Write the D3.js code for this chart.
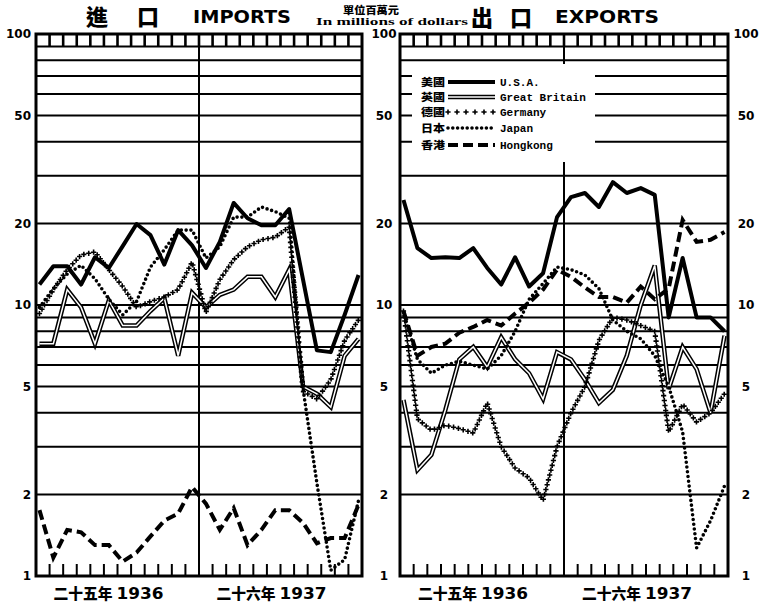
<!DOCTYPE html>
<html><head><meta charset="utf-8">
<script src="https://cdn.jsdelivr.net/npm/d3@7/dist/d3.min.js"></script>
<style>body{margin:0;background:#fff}svg{display:block}</style>
</head><body>
<svg id="c" width="759" height="606"></svg>
<script>
// ---- data ----
const months = ["1936-01","1936-02","1936-03","1936-04","1936-05","1936-06","1936-07","1936-08","1936-09","1936-10","1936-11","1936-12",
                "1937-01","1937-02","1937-03","1937-04","1937-05","1937-06","1937-07","1937-08","1937-09","1937-10","1937-11","1937-12"];
const yearLabelsZh = ["二十五年","二十六年"];
const yearLabelsEn = ["1936","1937"];
const yTickValues = [1,2,5,10,20,50,100];
const gridValues = [2,3,4,5,6,7,8,9,10,20,30,40,50,60,70,80,90];
const seriesNames = ["U.S.A.","Great Britain","Germany","Japan","Hongkong"];
const seriesNamesZh = ["美國","英國","德國","日本","香港"];

const importsUSA      = [11.9,13.9,13.9,11.9,15.0,13.7,16.5,19.9,18.1,14.1,18.9,16.6,13.7,17.1,23.8,20.9,19.7,19.7,22.6,12.4,6.8,6.7,9.2,12.9];
const importsGB       = [7.2,7.2,11.4,9.8,7.2,10.4,8.4,8.4,9.5,10.6,6.5,11.1,9.8,10.9,11.4,12.7,12.7,10.7,13.5,5.0,4.7,4.2,6.5,7.5];
const importsGermany  = [9.3,11.4,13.5,15.3,15.7,13.5,11.7,9.8,10.3,10.7,11.4,14.4,9.4,12.4,14.7,16.4,17.4,17.8,19.4,4.8,4.5,5.3,7.4,8.8];
const importsJapan    = [9.8,11.5,13.0,14.0,12.5,10.5,9.2,10.3,13.8,16.0,18.9,18.9,14.9,16.4,21.1,21.1,23.0,22.1,20.9,4.9,2.2,1.05,1.15,1.9];
const importsHongkong = [1.75,1.17,1.48,1.45,1.3,1.3,1.13,1.22,1.4,1.6,1.7,2.13,1.85,1.48,1.78,1.3,1.48,1.75,1.75,1.57,1.32,1.38,1.38,1.83];

const exportsUSA      = [24.4,16.2,14.9,15.0,14.9,16.2,13.7,11.9,15.0,11.7,13.1,21.1,25.0,25.9,23.0,28.4,25.9,27.0,25.5,9.0,14.9,9.0,9.0,8.0];
const exportsGB       = [4.46,2.46,2.8,4.1,6.3,7.0,5.9,7.6,6.3,5.6,4.5,6.7,6.3,5.3,4.35,4.86,6.5,10.0,14.0,4.9,7.0,5.8,4.0,7.7];
const exportsGermany  = [9.5,3.8,3.45,3.6,3.5,3.37,4.35,3.0,2.5,2.3,1.9,3.0,4.0,5.0,7.4,9.0,8.8,8.4,8.0,3.4,4.3,3.7,4.0,4.7];
const exportsJapan    = [9.4,6.3,5.6,6.0,6.2,6.0,5.8,6.5,8.0,10.5,12.0,13.8,13.5,12.9,11.5,8.8,8.0,7.5,6.5,5.0,3.4,1.27,1.6,2.15];
const exportsHongkong = [9.5,6.5,7.0,7.2,7.9,8.3,8.8,8.4,9.3,10.2,11.4,13.5,12.7,11.6,10.7,10.7,10.2,11.7,10.5,11.5,20.6,17.1,17.4,18.6];

// ---- layout ----
const svg = d3.select("#c");
const TOP = 34, BOT = 576;
const y = d3.scaleLog().domain([1,100]).range([BOT, TOP]);
const panels = [
  {x0:36, x1:362, series:[importsUSA,importsGB,importsGermany,importsJapan,importsHongkong]},
  {x0:400, x1:728, series:[exportsUSA,exportsGB,exportsGermany,exportsJapan,exportsHongkong], legend:true}
];
const styles = ["usa","gb","germany","japan","hk"];
const zhFont = "'Noto Sans CJK TC','Noto Sans CJK SC',sans-serif";

function drawStyled(g, pts, style) {
  const line = d3.line().x(d=>d[0]).y(d=>d[1]);
  const dstr = line(pts);
  if (style==="usa") {
    g.append("path").attr("d",dstr).attr("fill","none").attr("stroke","#000").attr("stroke-width",4).attr("stroke-linejoin","round");
  } else if (style==="gb") {
    g.append("path").attr("d",dstr).attr("fill","none").attr("stroke","#000").attr("stroke-width",4.5).attr("stroke-linejoin","miter");
    g.append("path").attr("d",dstr).attr("fill","none").attr("stroke","#fff").attr("stroke-width",1.5).attr("stroke-linejoin","miter");
  } else if (style==="japan") {
    g.append("path").attr("d",dstr).attr("fill","none").attr("stroke","#000").attr("stroke-width",3.6)
      .attr("stroke-dasharray","0,4.8").attr("stroke-linecap","round");
  } else if (style==="hk") {
    g.append("path").attr("d",dstr).attr("fill","none").attr("stroke","#000").attr("stroke-width",4)
      .attr("stroke-dasharray","10,5");
  } else if (style==="germany") {
    const p = g.append("path").attr("d",dstr).attr("fill","none").attr("stroke","none");
    const L = p.node().getTotalLength();
    const step = pts.length>2 ? 5 : 9;
    for (let l=0; l<=L; l+=step) {
      const q = p.node().getPointAtLength(l);
      g.append("path").attr("d",`M${q.x-2.6},${q.y}h5.2M${q.x},${q.y-2.6}v5.2`)
        .attr("stroke","#000").attr("stroke-width",1.6);
    }
  }
}

panels.forEach(P => {
  const g = svg.append("g");
  const x = d3.scalePoint().domain(months).range([P.x0, P.x1]).padding(0.25);
  const mid = (P.x0+P.x1)/2;
  g.selectAll(".grid").data(gridValues).enter().append("line")
    .attr("x1",P.x0).attr("x2",P.x1).attr("y1",d=>y(d)).attr("y2",d=>y(d))
    .attr("stroke","#000").attr("stroke-width",2);
  g.append("line").attr("x1",mid).attr("x2",mid).attr("y1",TOP).attr("y2",BOT).attr("stroke","#000").attr("stroke-width",2);
  const bounds = d3.range(1,24).map(k => P.x0 + k*(P.x1-P.x0)/24);
  g.selectAll(".comb").data(bounds).enter().append("line")
    .attr("x1",d=>d).attr("x2",d=>d).attr("y1",y(100)).attr("y2",y(90))
    .attr("stroke","#000").attr("stroke-width",2.6);
  g.selectAll(".btick").data(bounds).enter().append("line")
    .attr("x1",d=>d).attr("x2",d=>d).attr("y1",BOT).attr("y2",BOT-12)
    .attr("stroke","#000").attr("stroke-width",2);
  if (P.legend) {
    g.append("rect").attr("x",P.x0+12).attr("y",64).attr("width",183).attr("height",98).attr("fill","#fff");
  }
  P.series.forEach((vals,si) => {
    const pts = vals.map((v,i)=>[x(months[i]), y(v)]);
    drawStyled(g, pts, styles[si]);
  });
  g.append("rect").attr("x",P.x0).attr("y",TOP).attr("width",P.x1-P.x0).attr("height",BOT-TOP)
    .attr("fill","none").attr("stroke","#000").attr("stroke-width",3);
  [0,1].forEach(k => {
    const cx = P.x0 + (k+0.5)*(P.x1-P.x0)/2;
    g.append("text").attr("x",cx-64).attr("y",599).text(yearLabelsZh[k])
      .attr("font-family",zhFont).attr("font-weight",900).attr("font-size",15)
      .attr("textLength",59).attr("lengthAdjust","spacingAndGlyphs");
    g.append("text").attr("x",cx-1).attr("y",599).text(yearLabelsEn[k])
      .attr("font-family","'DejaVu Sans',sans-serif").attr("font-weight","bold").attr("font-size",15)
      .attr("textLength",47).attr("lengthAdjust","spacingAndGlyphs");
  });
  if (P.legend) {
    const rows = [82,97,112,128,145];
    seriesNames.forEach((nm,i) => {
      const ly = rows[i];
      g.append("text").attr("x",421).attr("y",ly).attr("dy","0.36em").text(seriesNamesZh[i])
        .attr("font-family",zhFont).attr("font-weight",900).attr("font-size",10.5)
        .attr("textLength",24).attr("lengthAdjust","spacingAndGlyphs");
      drawStyled(g, [[448,ly],[495,ly]], styles[i]);
      g.append("text").attr("x",500).attr("y",ly).attr("dy","0.35em").text(nm)
        .attr("font-family","'Liberation Mono',monospace").attr("font-weight","bold").attr("font-size",11);
    });
  }
});

const lab = (xx, anchor) => {
  svg.append("g").selectAll("text").data(yTickValues).enter().append("text")
    .attr("x",xx).attr("y",d=>y(d)).attr("dy","0.36em").attr("text-anchor",anchor)
    .attr("font-family","'DejaVu Sans',sans-serif").attr("font-weight","bold").attr("font-size",12)
    .text(d=>d);
};
lab(31,"end");
lab(384,"middle");
lab(746,"middle");

const t = (txt,xx,yy,fs,fam,len,w) => {
  const e = svg.append("text").attr("x",xx).attr("y",yy).text(txt).attr("font-size",fs)
    .attr("font-family",fam).attr("font-weight",w||"bold");
  if (len) e.attr("textLength",len).attr("lengthAdjust","spacingAndGlyphs");
};
t("進",86,25,22,zhFont,null,900);
t("口",137,25,22,zhFont,null,900);
t("IMPORTS",193,23,18,"'DejaVu Sans',sans-serif",98);
t("單位百萬元",343,13.5,10,zhFont,56,900);
t("In millions of dollars",316,24.5,9.5,"'Liberation Serif',serif",152);
t("出",471,26,22,zhFont,null,900);
t("口",510,26,22,zhFont,null,900);
t("EXPORTS",555,23,18,"'DejaVu Sans',sans-serif",104);
</script>
</body></html>
